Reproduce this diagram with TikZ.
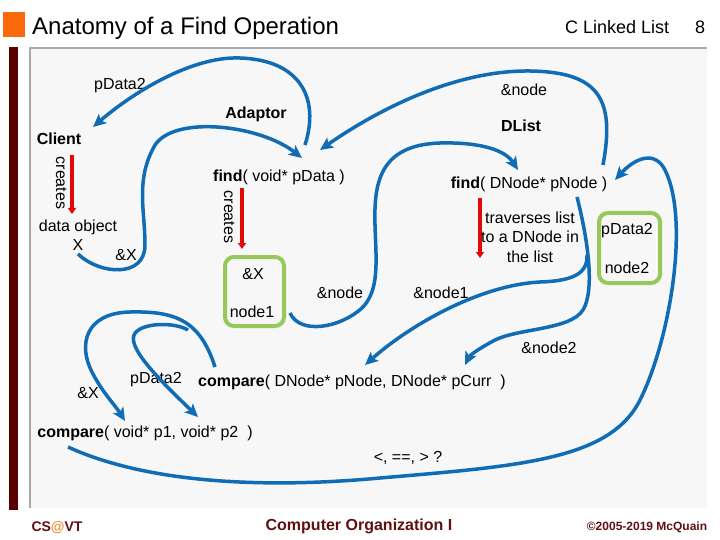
\documentclass[tikz,border=0pt]{standalone}
\usepackage{fontspec}
\setmainfont{Liberation Sans}
\usetikzlibrary{arrows.meta}
\definecolor{azul}{RGB}{16,108,180}
\definecolor{verde}{RGB}{150,200,92}
\definecolor{rojo}{RGB}{225,10,10}
\definecolor{granate}{RGB}{88,0,0}
\definecolor{granateb}{RGB}{96,16,16}
\definecolor{naranja}{RGB}{250,105,10}
\definecolor{arroba}{RGB}{235,140,50}
\definecolor{panel}{RGB}{247,247,247}
\definecolor{borde}{RGB}{170,170,170}
\begin{document}
\begin{tikzpicture}[x=1pt,y=-1pt,
    texto/.style={inner sep=0pt,font=\fontsize{16}{19.5}\selectfont,text height=11.5pt,text depth=3.5pt},
    flecha/.style={azul,line width=3.5pt,-{Stealth[length=13pt,width=12pt,inset=3pt]}},
    crea/.style={rojo,line width=3.5pt,-{Triangle[length=6pt,width=8pt]}},
    caja/.style={draw=verde,line width=4pt,rounded corners=9pt,inner sep=0pt}]
    \useasboundingbox (0,0) rectangle (720,540);
    % Marco de la diapositiva
    \fill[panel] (30,48) rectangle (707,508);
    \draw[borde,line width=1.5pt] (30,508) -- (30,48) -- (707,48);
    \fill[granate] (9,47) rectangle (18,510);
    \fill[naranja] (3,12) rectangle (25,37);
    \node[anchor=base west,inner sep=0pt,font=\fontsize{24}{28}\selectfont] (titulo) at (32,35) {Anatomy of a Find Operation};
    \node[anchor=base west,inner sep=0pt,font=\fontsize{18}{21}\selectfont] (tema) at (565,34) {C Linked List};
    \node[anchor=base west,inner sep=0pt,font=\fontsize{18}{21}\selectfont] (pagina) at (695,34) {8};
    % Pie
    \node[anchor=base,inner sep=0pt,text=granateb,font=\bfseries\fontsize{14}{16}\selectfont] (cs) at (57,531) {CS{\color{arroba}@}VT};
    \node[anchor=base,inner sep=0pt,text=granateb,font=\bfseries\fontsize{16}{18}\selectfont] (curso) at (359,530) {Computer Organization I};
    \node[anchor=base,inner sep=0pt,text=granateb,font=\bfseries\fontsize{12}{14}\selectfont] (autor) at (647,530) {©2005-2019 McQuain};
    % Cliente
    \node[texto,font=\bfseries\fontsize{16}{19.5}\selectfont] (cliente) at (59,141) {Client};
    \node[texto,rotate=-90] (crea1) at (60,183) {creates};
    \coordinate (r1a) at (72,155);
    \coordinate (r1b) at (72,214);
    \draw[crea] (r1a) -- (r1b);
    \node[texto] (dato) at (78,227) {data object};
    \node[texto] (x) at (78,246) {X};
    \node[texto] (dirx) at (126,256) {\&X};
    % Adaptor
    \node[texto,font=\bfseries\fontsize{16}{19.5}\selectfont] (adaptador) at (256,115) {Adaptor};
    \node[texto] (find1) at (279,178) {\textbf{find}( void* pData )};
    \node[texto,rotate=-90] (crea2) at (228,217) {creates};
    \coordinate (r2a) at (242,188);
    \coordinate (r2b) at (242,249);
    \draw[crea] (r2a) -- (r2b);
    \node[caja,minimum width=59pt,minimum height=69pt] (caja1) at (254.5,291.5) {};
    \node[texto] (dirx2) at (253,275) {\&X};
    \node[texto] (nodo1) at (252,313) {node1};
    \node[texto] (dirnodo) at (340,294) {\&node};
    \node[texto] (pdata2a) at (120,86) {pData2};
    % DList
    \node[texto] (dirnodoa) at (524,92) {\&node};
    \node[texto,font=\bfseries\fontsize{16}{19.5}\selectfont] (dlist) at (521,128) {DList};
    \node[texto] (find2) at (529,185) {\textbf{find}( DNode* pNode )};
    \coordinate (r3a) at (480,198);
    \coordinate (r3b) at (480,258);
    \draw[crea] (r3a) -- (r3b);
    \node[inner sep=0pt,font=\fontsize{16}{19.5}\selectfont,align=center] (recorre) at (530,237) {traverses list\\to a DNode in\\the list};
    \node[caja,minimum width=61pt,minimum height=70pt] (caja2) at (629.5,248) {};
    \node[texto] (pdata2b) at (627,231) {pData2};
    \node[texto] (nodo2) at (627,269) {node2};
    \node[texto] (dirnodo1) at (441,294) {\&node1};
    \node[texto] (dirnodo2) at (549,349) {\&node2};
    % compare
    \node[texto] (comp2) at (352,382) {\textbf{compare}( DNode* pNode, DNode* pCurr\ \ )};
    \node[texto] (pdata2c) at (156,379) {pData2};
    \node[texto] (dirx3) at (88,394) {\&X};
    \node[texto] (comp1) at (145,433) {\textbf{compare}( void* p1, void* p2\ \ )};
    \node[texto] (resultado) at (408,458) {<, ==, > ?};
    % Flechas azules
    \coordinate (a1) at (305,145);  \coordinate (a2) at (93,127);
    \draw[flecha] (a1) .. controls (320,98) and (300,60) .. (240,58) .. controls (190,56) and (130,95) .. (a2);
    \coordinate (b1) at (603,165);  \coordinate (b2) at (320,150);
    \draw[flecha] (b1) .. controls (615,100) and (600,72) .. (530,71) .. controls (450,70) and (370,115) .. (b2);
    \coordinate (c1) at (78,254);  \coordinate (c2) at (302,158);
    \draw[flecha] (c1) .. controls (100,275) and (145,278) .. (145,245) .. controls (145,210) and (135,180) .. (155,145) .. controls (175,115) and (260,125) .. (c2);
    \coordinate (d1) at (290,313);  \coordinate (d2) at (518,170);
    \draw[flecha] (d1) .. controls (300,335) and (340,328) .. (362,308) .. controls (380,290) and (376,260) .. (375,225) .. controls (374,185) and (378,145) .. (440,143) .. controls (480,142) and (505,150) .. (d2);
    \coordinate (e1) at (587,255);  \coordinate (e2) at (365,365);
    \draw[flecha] (e1) .. controls (588,275) and (570,281) .. (540,282) .. controls (480,285) and (410,325) .. (e2);
    \coordinate (f1) at (577,197);  \coordinate (f2) at (465,365);
    \draw[flecha] (f1) .. controls (588,240) and (595,290) .. (583,310) .. controls (570,330) and (520,328) .. (495,340) .. controls (480,348) and (470,355) .. (f2);
    \coordinate (g1) at (68,447);  \coordinate (g2) at (615,180);
    \draw[flecha] (g1) .. controls (140,480) and (250,490) .. (380,478) .. controls (520,466) and (610,460) .. (640,400) .. controls (670,340) and (690,220) .. (665,170) .. controls (655,150) and (635,158) .. (g2);
    \coordinate (h1) at (215,367);  \coordinate (h2) at (125,421);
    \draw[flecha] (h1) .. controls (200,320) and (175,311) .. (130,312) .. controls (85,313) and (78,345) .. (92,372) .. controls (102,392) and (115,405) .. (h2);
    \coordinate (i1) at (188,330);  \coordinate (i2) at (198,417);
    \draw[flecha] (i1) .. controls (175,322) and (140,322) .. (134,335) .. controls (128,350) and (165,385) .. (i2);
\end{tikzpicture}
\end{document}
